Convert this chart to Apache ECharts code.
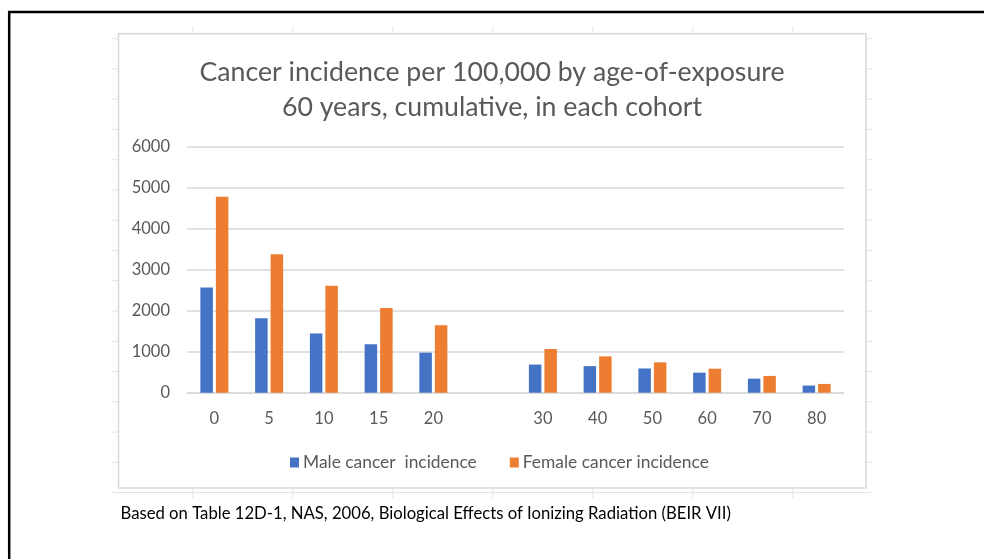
<!DOCTYPE html>
<html>
<head>
<meta charset="utf-8">
<script src="https://cdn.jsdelivr.net/npm/echarts@6/dist/echarts.min.js"></script>
<style>html,body{margin:0;padding:0;background:#fff;}#c{width:984px;height:559px;}</style>
</head>
<body>
<div id="c"></div>
<script>
var categories = ['0', '5', '10', '15', '20', '', '30', '40', '50', '60', '70', '80'];
var maleIncidence = [2563, 1816, 1445, 1182, 977, null, 686, 648, 591, 489, 343, 174];
var femaleIncidence = [4777, 3377, 2611, 2064, 1646, null, 1065, 886, 740, 586, 409, 214];
var yTicks = { min: 0, max: 6000, interval: 1000 };
var titleLines = ['Cancer incidence per 100,000 by age-of-exposure', '60 years, cumulative, in each cohort'];
var seriesNames = ['Male cancer  incidence', 'Female cancer incidence'];
var footnote = 'Based on Table 12D-1, NAS, 2006, Biological Effects of Ionizing Radiation (BEIR VII)';

var FONT = 'Lato';
var chart = echarts.init(document.getElementById('c'), null, { renderer: 'canvas' });

var cellColor = '#e3e3e3';
var graphics = [];
// spreadsheet cell grid peeking around the chart
for (var k = 0; k < 15; k++) {
  var yy = 38.7 + 30.26 * k;
  graphics.push({ type: 'line', shape: { x1: 112, y1: yy, x2: 118, y2: yy }, style: { stroke: cellColor, lineWidth: 1 }, silent: true });
  graphics.push({ type: 'line', shape: { x1: 866, y1: yy, x2: 872, y2: yy }, style: { stroke: cellColor, lineWidth: 1 }, silent: true });
}
graphics.push({ type: 'line', shape: { x1: 112, y1: 492.6, x2: 872, y2: 492.6 }, style: { stroke: cellColor, lineWidth: 1 }, silent: true });
for (var j = 0; j < 7; j++) {
  var xx = 193 + 100 * j;
  graphics.push({ type: 'line', shape: { x1: xx, y1: 26, x2: xx, y2: 33.5 }, style: { stroke: cellColor, lineWidth: 1 }, silent: true });
  graphics.push({ type: 'line', shape: { x1: xx, y1: 488, x2: xx, y2: 498 }, style: { stroke: cellColor, lineWidth: 1 }, silent: true });
}
// chart area border
graphics.push({ type: 'rect', shape: { x: 118.5, y: 33.7, width: 747.5, height: 454.3 }, style: { fill: 'none', stroke: '#d9d9d9', lineWidth: 1.5 }, silent: true, z: 1 });
// outer black frame (top and left visible)
graphics.push({ type: 'line', shape: { x1: 8, y1: 12, x2: 984, y2: 12 }, style: { stroke: '#000', lineWidth: 2.5 }, silent: true });
graphics.push({ type: 'line', shape: { x1: 9.2, y1: 11, x2: 9.2, y2: 559 }, style: { stroke: '#000', lineWidth: 2.5 }, silent: true });
// footnote
graphics.push({ type: 'text', x: 120.5, y: 514, style: { text: footnote, fill: '#000', font: '16.7px ' + FONT, textVerticalAlign: 'middle', textAlign: 'left' }, silent: true });

var option = {
  backgroundColor: '#fff',
  animation: false,
  title: {
    text: titleLines.join('\n'),
    left: 'center',
    top: 50,
    textStyle: { fontFamily: FONT, fontSize: 26.7, fontWeight: 'normal', color: '#595959', lineHeight: 35 }
  },
  legend: {
    data: seriesNames,
    left: 285,
    top: 449,
    icon: 'rect',
    itemWidth: 9,
    itemHeight: 10,
    itemGap: 33,
    textStyle: { fontFamily: FONT, fontSize: 17.4, color: '#595959', padding: [0, 0, 0, -1] }
  },
  grid: { left: 187, right: 140, top: 146.7, bottom: 166.3, containLabel: false },
  xAxis: {
    type: 'category',
    data: categories,
    axisLine: { show: true, lineStyle: { color: '#d9d9d9', width: 1.5 } },
    axisTick: { show: false },
    axisLabel: { color: '#595959', fontFamily: FONT, fontSize: 16.5, margin: 17, interval: 0 },
    splitLine: { show: false }
  },
  yAxis: {
    type: 'value',
    min: yTicks.min,
    max: yTicks.max,
    interval: yTicks.interval,
    axisLine: { show: false },
    axisTick: { show: false },
    axisLabel: { color: '#595959', fontFamily: FONT, fontSize: 16.5, margin: 17, formatter: function (v) { return String(v); } },
    splitLine: { show: true, lineStyle: { color: '#d9d9d9', width: 1.5 } }
  },
  series: [
    { name: seriesNames[0], type: 'bar', data: maleIncidence, barWidth: 12.5, barGap: '24%', itemStyle: { color: '#4472C4' } },
    { name: seriesNames[1], type: 'bar', data: femaleIncidence, barWidth: 12.5, barGap: '24%', itemStyle: { color: '#ED7D31' } }
  ],
  graphic: graphics
};
chart.setOption(option);
</script>
</body>
</html>
